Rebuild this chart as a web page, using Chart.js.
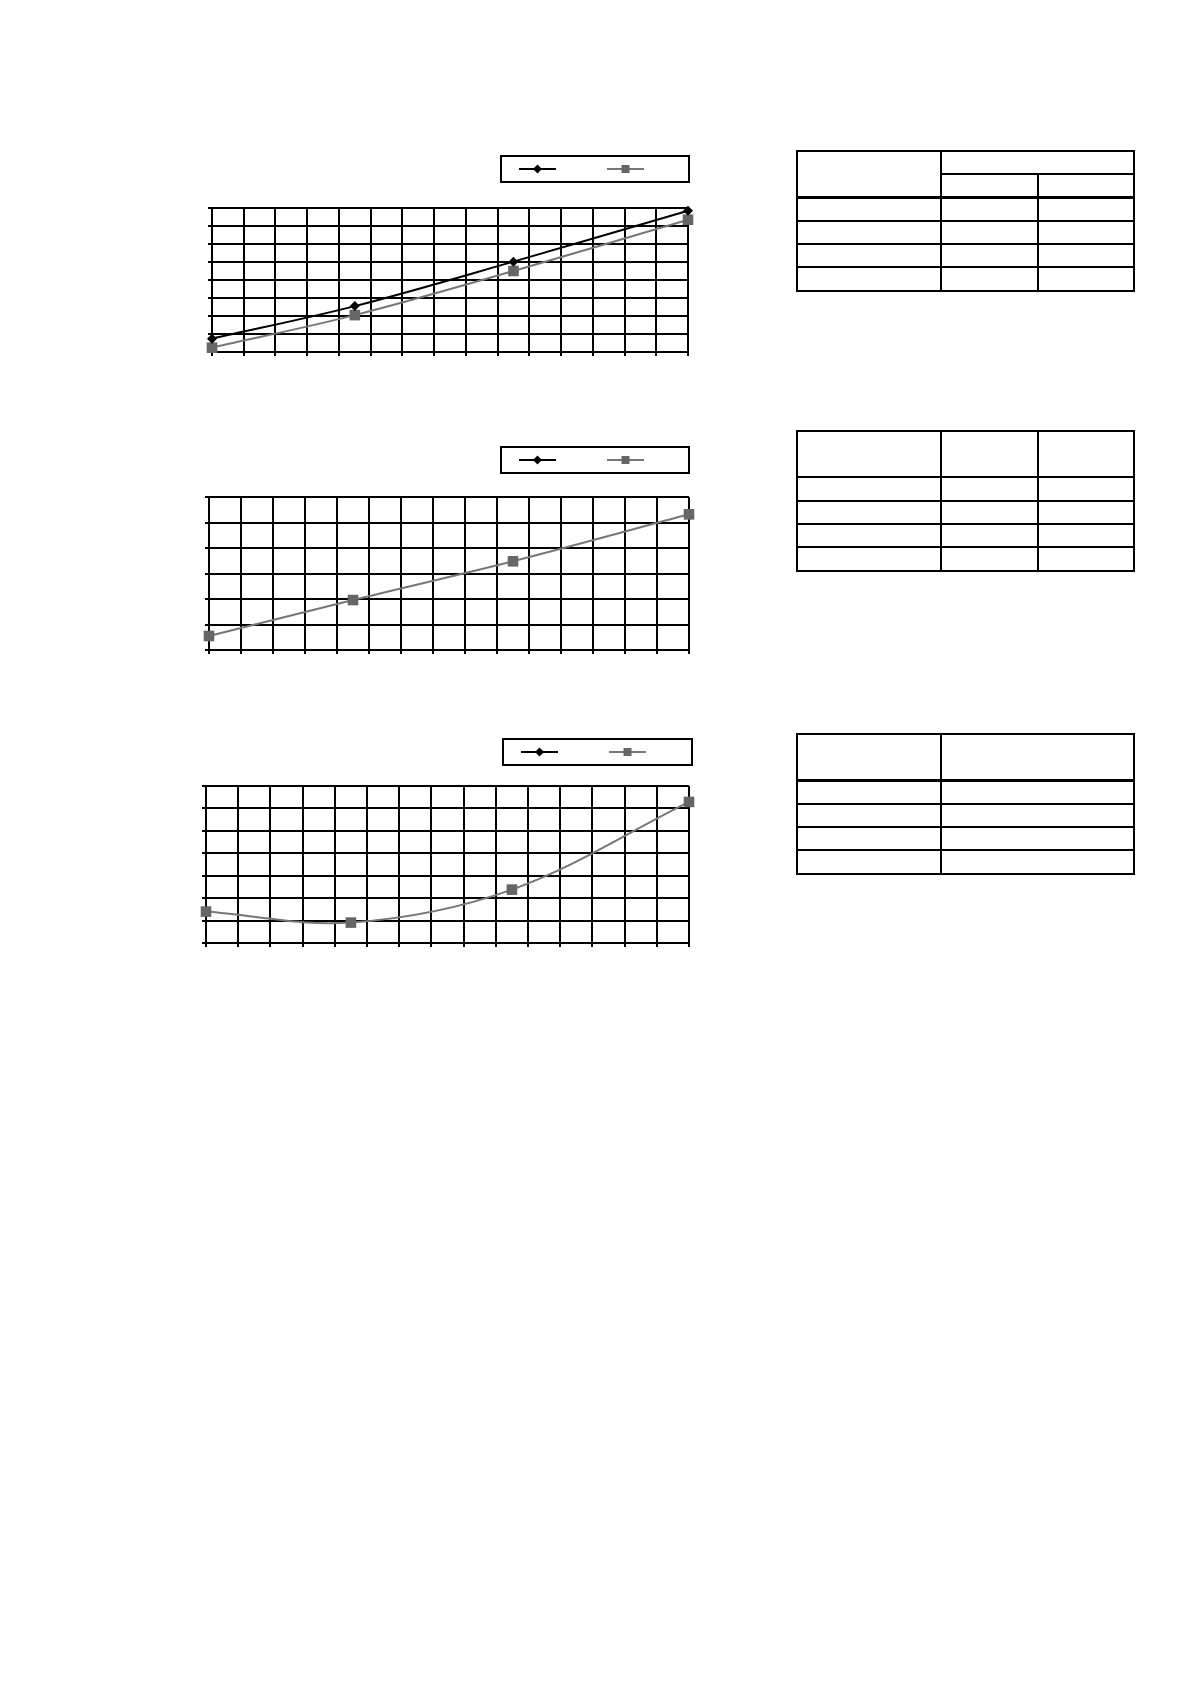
<!DOCTYPE html>
<html>
<head>
<meta charset="utf-8">
<script src="https://cdn.jsdelivr.net/npm/chart.js@4/dist/chart.umd.min.js"></script>
<style>
  body { margin: 0; background: #fff; }
  #page { position: relative; width: 1190px; height: 1684px; background: #fff; }
  canvas { position: absolute; }
  table.t { position: absolute; border-collapse: collapse; table-layout: fixed; }
  table.t td { border: 2px solid #000; padding: 0; }
  table.t td.thin { border-left-width: 1px; }
  table.t tr.hb td { border-top-width: 3px; }
  table.t tr.tb td { border-top-width: 1px; }
</style>
</head>
<body>
<div id="page">
  <canvas id="c1"></canvas>
  <canvas id="c2"></canvas>
  <canvas id="c3"></canvas>

  <table class="t" style="left:796px; top:150px; width:337px">
    <colgroup><col style="width:144px"><col style="width:97px"><col style="width:96px"></colgroup>
    <tr style="height:23px"><td rowspan="2"></td><td colspan="2"></td></tr>
    <tr style="height:23px"><td></td><td class="thin"></td></tr>
    <tr class="hb" style="height:24px"><td></td><td></td><td class="thin"></td></tr>
    <tr style="height:23px"><td></td><td></td><td class="thin"></td></tr>
    <tr style="height:23px"><td></td><td></td><td class="thin"></td></tr>
    <tr class="tb" style="height:24px"><td></td><td></td><td class="thin"></td></tr>
  </table>

  <table class="t" style="left:796px; top:430px; width:337px">
    <colgroup><col style="width:144px"><col style="width:97px"><col style="width:96px"></colgroup>
    <tr style="height:46px"><td></td><td></td><td class="thin"></td></tr>
    <tr class="tb" style="height:24px"><td></td><td></td><td class="thin"></td></tr>
    <tr style="height:23px"><td></td><td></td><td class="thin"></td></tr>
    <tr style="height:23px"><td></td><td></td><td class="thin"></td></tr>
    <tr style="height:24px"><td></td><td></td><td class="thin"></td></tr>
  </table>

  <table class="t" style="left:796px; top:733px; width:337px">
    <colgroup><col style="width:144px"><col style="width:193px"></colgroup>
    <tr style="height:46px"><td></td><td></td></tr>
    <tr class="hb" style="height:24px"><td></td><td></td></tr>
    <tr style="height:23px"><td></td><td></td></tr>
    <tr style="height:23px"><td></td><td></td></tr>
    <tr style="height:24px"><td></td><td></td></tr>
  </table>
</div>
<script>
// x positions of the four measured points (grid units, 15 divisions)
var xPoints = [0, 4.5, 9.5, 15];

// chart 1
var c1Black = [0.74, 2.55, 5.02, 7.85];
var c1Gray  = [0.24, 2.05, 4.50, 7.35];
// chart 2 (black series only appears in the legend)
var c2Black = [];
var c2Gray  = [0.55, 1.96, 3.48, 5.32];
// chart 3
var c3Black = [];
var c3Gray  = [1.40, 0.91, 2.38, 6.29];

var xMax = 15;
var yMax = [8, 6, 7];

// page boxes: plot area and legend frame
var layouts = [
  { id: 'c1', plot: { l: 212, r: 688, t: 208, b: 352 }, legend: { l: 501, r: 689, t: 156, b: 182 } },
  { id: 'c2', plot: { l: 209, r: 689, t: 497, b: 650 }, legend: { l: 501, r: 689, t: 447, b: 473 } },
  { id: 'c3', plot: { l: 206, r: 689, t: 786, b: 943 }, legend: { l: 503, r: 692, t: 739, b: 765 } }
];

var BLACK = '#000000';
var GRAY_LINE = '#777777';
var GRAY_MARK = '#666666';

function pts(ys) {
  return ys.map(function (y, k) { return { x: xPoints[k], y: y }; });
}

function drawMark(ctx, style, x, y, r, color) {
  ctx.fillStyle = color;
  ctx.beginPath();
  if (style === 'rectRot') {
    ctx.moveTo(x, y - r); ctx.lineTo(x + r, y); ctx.lineTo(x, y + r); ctx.lineTo(x - r, y);
  } else {
    ctx.rect(x - r, y - r, 2 * r, 2 * r);
  }
  ctx.closePath();
  ctx.fill();
}

var boxLegend = {
  id: 'boxLegend',
  afterDraw: function (chart, args, opts) {
    var ctx = chart.ctx;
    var b = opts.box;
    ctx.save();
    ctx.lineWidth = 2;
    ctx.strokeStyle = BLACK;
    ctx.strokeRect(b.x, b.y, b.w, b.h);
    var cy = b.y + b.h / 2;
    chart.data.datasets.forEach(function (ds, i) {
      var x0 = b.x + 18 + i * 88;
      ctx.strokeStyle = ds.borderColor;
      ctx.lineWidth = 2;
      ctx.beginPath();
      ctx.moveTo(x0, cy);
      ctx.lineTo(x0 + 37, cy);
      ctx.stroke();
      drawMark(ctx, ds.pointStyle, x0 + 18.5, cy, ds.pointStyle === 'rectRot' ? 4.5 : 4, ds.pointBackgroundColor);
    });
    ctx.restore();
  }
};

function makeChart(n, black, gray) {
  var L = layouts[n];
  var left = L.plot.l - 10;
  var top = L.legend.t - 10;
  var w = L.plot.r - L.plot.l + 20;
  var h = L.plot.b - L.legend.t + 20;
  var cv = document.getElementById(L.id);
  cv.width = w; cv.height = h;
  cv.style.left = left + 'px'; cv.style.top = top + 'px';
  cv.style.width = w + 'px'; cv.style.height = h + 'px';

  var gridOpts = { color: BLACK, lineWidth: 2, tickLength: 4, drawTicks: true };

  return new Chart(cv.getContext('2d'), {
    type: 'line',
    data: {
      datasets: [{
        label: '',
        data: pts(black),
        borderColor: BLACK,
        borderWidth: 2,
        pointStyle: 'rectRot',
        pointRadius: 5,
        pointBackgroundColor: BLACK,
        pointBorderColor: BLACK,
        pointBorderWidth: 0,
        tension: 0.35,
        clip: false
      }, {
        label: '',
        data: pts(gray),
        borderColor: GRAY_LINE,
        borderWidth: 2,
        pointStyle: 'rect',
        pointRadius: 7.5,
        pointBackgroundColor: GRAY_MARK,
        pointBorderColor: GRAY_MARK,
        pointBorderWidth: 0,
        tension: 0.35,
        clip: false
      }]
    },
    options: {
      responsive: false,
      animation: false,
      events: [],
      layout: { padding: { top: L.plot.t - top, right: 10, left: 0, bottom: 0 } },
      plugins: {
        legend: { display: false },
        tooltip: { enabled: false },
        boxLegend: {
          box: { x: L.legend.l - left, y: L.legend.t - top, w: L.legend.r - L.legend.l, h: L.legend.b - L.legend.t }
        }
      },
      scales: {
        x: {
          type: 'linear', min: 0, max: xMax,
          ticks: { display: false, stepSize: 1 },
          grid: gridOpts,
          border: { color: BLACK, width: 2 },
          afterFit: function (s) { s.height = 10; }
        },
        y: {
          type: 'linear', min: 0, max: yMax[n],
          ticks: { display: false, stepSize: 1 },
          grid: gridOpts,
          border: { color: BLACK, width: 2 },
          afterFit: function (s) { s.width = 10; }
        }
      }
    },
    plugins: [boxLegend]
  });
}

makeChart(0, c1Black, c1Gray);
makeChart(1, c2Black, c2Gray);
makeChart(2, c3Black, c3Gray);
</script>
</body>
</html>
